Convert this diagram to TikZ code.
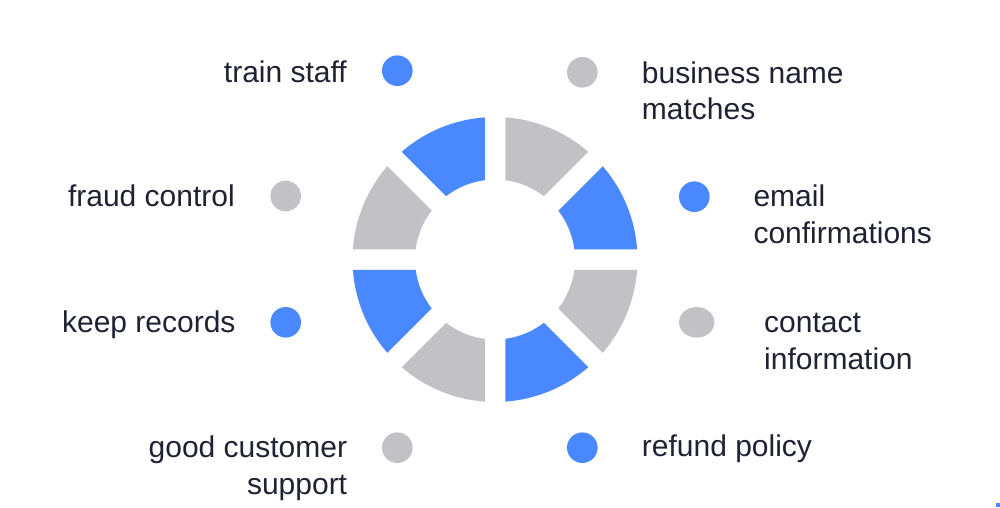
\documentclass[tikz,border=0pt]{standalone}
\usepackage{fontspec}
\setmainfont{Liberation Sans}
\usetikzlibrary{shapes.geometric}
\definecolor{blu}{HTML}{4A88FF}
\definecolor{gry}{HTML}{C2C2C6}
\definecolor{ink}{HTML}{1F2233}
\tikzset{
	dot/.style={circle, fill=#1, inner sep=0pt, minimum size=30.6pt},
	lbl/.style={text=ink, inner sep=0pt, align=left},
}
\begin{document}
\begin{tikzpicture}[x=1pt, y=1pt, font=\fontsize{30}{36.7}\selectfont]
		\useasboundingbox (0,0) rectangle (1000,507);
		\coordinate (c) at (495, 247.5);
		\foreach \a/\col in {0/blu, 45/gry, 90/blu, 135/gry, 180/blu, 225/gry, 270/blu, 315/gry}
		{
			\pgfmathsetmacro{\so}{\a + asin(10.25/142.5)}
			\pgfmathsetmacro{\eo}{\a + 45 - asin(10.25/142.5)}
			\pgfmathsetmacro{\si}{\a + asin(10.25/80)}
			\pgfmathsetmacro{\ei}{\a + 45 - asin(10.25/80)}
			\fill[\col, shift={(c)}] (\so:142.5pt) arc[start angle=\so, end angle=\eo, radius=142.5pt]
				-- (\ei:80pt) arc[start angle=\ei, end angle=\si, radius=80pt] -- cycle;
		}
		\node[dot=blu] (trainDot) at (397.3, 436.3) {};
		\node[lbl, anchor=base east] (train) at (347, 424.3) {train staff};
		\node[dot=gry] (nameDot) at (582.3, 434.7) {};
		\node[lbl, anchor=base west] (name) at (641.7, 387) {business name\\matches};
		\node[dot=blu] (emailDot) at (694.3, 310.3) {};
		\node[lbl, anchor=base west] (email) at (753.3, 263.7) {email\\confirmations};
		\node[ellipse, fill=gry, inner sep=0pt, minimum width=35.4pt, minimum height=30.6pt] (contactDot) at (696.7, 184.7) {};
		\node[lbl, anchor=base west] (contact) at (764, 137.7) {contact\\information};
		\node[dot=gry] (fraudDot) at (285.7, 311) {};
		\node[lbl, anchor=base east] (fraud) at (235, 300.3) {fraud control};
		\node[dot=blu] (recordsDot) at (285.7, 184.7) {};
		\node[lbl, anchor=base east] (records) at (235.7, 174.3) {keep records};
		\node[dot=gry] (supportDot) at (397.3, 59.3) {};
		\node[lbl, anchor=base east, align=right] (support) at (347.3, 13) {good customer\\support};
		\node[dot=blu] (refundDot) at (582.3, 59.3) {};
		\node[lbl, anchor=base west] (refund) at (641.7, 50.3) {refund policy};
		\fill[blu] (996, 0.3) rectangle (1000, 3.7);
	\end{tikzpicture}
\end{document}
